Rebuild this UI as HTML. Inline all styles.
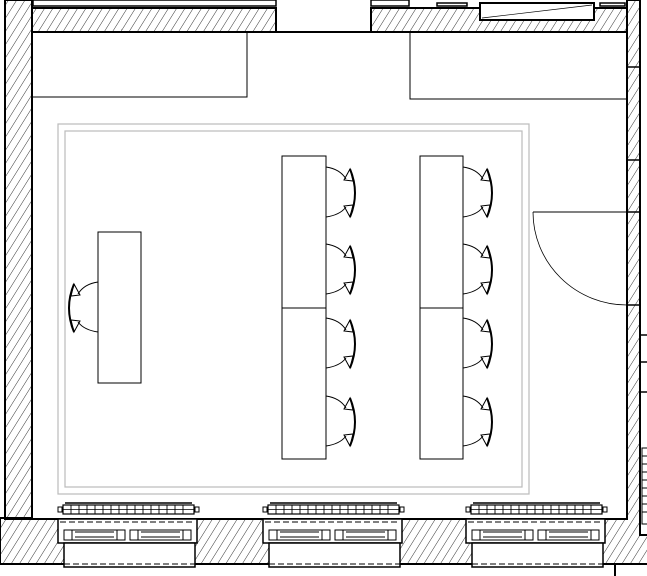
<!DOCTYPE html>
<html><head><meta charset="utf-8"><style>html,body{margin:0;padding:0;background:#fff}svg{display:block}</style></head>
<body>
<svg width="647" height="576" viewBox="0 0 647 576" xmlns="http://www.w3.org/2000/svg">
<defs>
<pattern id="h" patternUnits="userSpaceOnUse" width="7" height="7" patternTransform="rotate(32)">
<line x1="0" y1="0" x2="0" y2="7" stroke="#000" stroke-width="0.8"/>
</pattern>
<g id="chair" fill="none" stroke="#000" stroke-width="1">
<path d="M0,-26 Q14,-24 20,-14"/>
<path d="M0,24 Q14,22 20,14"/>
<path d="M24,-24 Q34,0 24,24" stroke-width="2"/>
<path d="M24,-24 L18,-13 L27,-12 Z"/>
<path d="M24,24 L18,13 L27,12 Z"/>
</g>
<g id="rad" fill="none" stroke="#000">
<rect x="0" y="4" width="131" height="9" fill="#fff" stroke-width="1.2"/>
<path d="M8,4V13M16,4V13M24,4V13M32,4V13M40,4V13M48,4V13M56,4V13M64,4V13M72,4V13M80,4V13M88,4V13M96,4V13M104,4V13M112,4V13M120,4V13" stroke-width="0.9"/>
<line x1="0" y1="8.5" x2="131" y2="8.5" stroke-width="0.8"/>
<line x1="2" y1="2" x2="129" y2="2" stroke-width="1.5"/>
<rect x="-5" y="6" width="4" height="5"/><rect x="132" y="6" width="4" height="5"/>
</g>
<g id="niche" fill="none" stroke="#000">
<rect x="0" y="0" width="139" height="24" fill="#fff" stroke-width="1.5"/>
<rect x="6" y="24" width="131" height="24" fill="#fff" stroke-width="1.5"/>
<line x1="2" y1="3" x2="137" y2="3" stroke-dasharray="6,3"/>
<line x1="6" y1="45" x2="137" y2="45" stroke-dasharray="6,3"/>
<rect x="6" y="11" width="61" height="10"/><rect x="72" y="11" width="61" height="10"/>
<rect x="6" y="11" width="8" height="10"/><rect x="59" y="11" width="8" height="10"/>
<rect x="72" y="11" width="8" height="10"/><rect x="125" y="11" width="8" height="10"/>
<line x1="17" y1="13" x2="56" y2="13"/><line x1="17" y1="18" x2="56" y2="18"/>
<line x1="83" y1="13" x2="122" y2="13"/><line x1="83" y1="18" x2="122" y2="18"/>
</g>
</defs>
<!-- walls -->
<path d="M5,0 H32 V519 H5 Z" fill="url(#h)" stroke="#000" stroke-width="2"/>
<path d="M32,8 H276 V32 H32 Z" fill="url(#h)" stroke="#000" stroke-width="2"/>
<path d="M371,8 H627 V32 H371 Z" fill="url(#h)" stroke="#000" stroke-width="2"/>
<path d="M0,518 H627 V0 H640 V535 H648 V564 H0 Z" fill="url(#h)" stroke="#000" stroke-width="2"/>
<line x1="615" y1="564" x2="615" y2="576" stroke="#000" stroke-width="2"/>
<rect x="33" y="0" width="243" height="6" fill="#fff" stroke="#000" stroke-width="1.5"/>
<rect x="480" y="3" width="114" height="17" fill="#fff" stroke="#000" stroke-width="2"/>
<line x1="482" y1="18" x2="592" y2="5" stroke="#000" stroke-width="0.7"/>
<rect x="437" y="3" width="30" height="3" fill="#fff" stroke="#000" stroke-width="1.5"/>
<rect x="600" y="3" width="25" height="3" fill="#fff" stroke="#000" stroke-width="1.5"/>
<rect x="371" y="0" width="38" height="6" fill="#fff" stroke="#000" stroke-width="1.5"/>
<!-- room interior -->
<rect x="32" y="32" width="595" height="487" fill="#fff" stroke="#000" stroke-width="2"/>
<!-- right wall ticks -->
<g stroke="#000" stroke-width="1.5">
<line x1="627" y1="67" x2="640" y2="67"/><line x1="627" y1="160" x2="640" y2="160"/>
<line x1="627" y1="212" x2="640" y2="212"/><line x1="627" y1="305" x2="640" y2="305"/>
<line x1="640" y1="335" x2="647" y2="335"/><line x1="640" y1="362" x2="647" y2="362"/><line x1="640" y1="392" x2="647" y2="392"/>
</g>
<!-- vertical radiator outside -->
<g fill="none" stroke="#000" stroke-width="1">
<rect x="642" y="448" width="6" height="76" fill="#fff"/>
<path d="M642,456H648M642,464H648M642,472H648M642,480H648M642,488H648M642,496H648M642,504H648M642,512H648"/>
</g>
<!-- cabinets -->
<rect x="32" y="32" width="215" height="65" fill="none" stroke="#000" stroke-width="1"/>
<rect x="410" y="32" width="217" height="67" fill="none" stroke="#000" stroke-width="1"/>
<!-- door -->
<line x1="533" y1="212" x2="627" y2="212" stroke="#000" stroke-width="1"/>
<path d="M533,212 A94,93 0 0 0 627,305" fill="none" stroke="#000" stroke-width="0.8"/>
<!-- carpet -->
<rect x="58" y="124" width="471" height="370" fill="none" stroke="#bbb" stroke-width="1.2"/>
<rect x="65" y="131" width="457" height="356" fill="none" stroke="#bbb" stroke-width="1.2"/>
<!-- desks -->
<g fill="#fff" stroke="#000" stroke-width="1">
<rect x="98" y="232" width="43" height="151"/>
<rect x="282" y="156" width="44" height="152"/><rect x="282" y="308" width="44" height="151"/>
<rect x="420" y="156" width="43" height="152"/><rect x="420" y="308" width="43" height="151"/>
</g>
<!-- chairs -->
<use href="#chair" transform="translate(326,193)"/>
<use href="#chair" transform="translate(326,270)"/>
<use href="#chair" transform="translate(326,344)"/>
<use href="#chair" transform="translate(326,422)"/>
<use href="#chair" transform="translate(463,193)"/>
<use href="#chair" transform="translate(463,270)"/>
<use href="#chair" transform="translate(463,344)"/>
<use href="#chair" transform="translate(463,422)"/>
<use href="#chair" transform="translate(98,308) scale(-1,1)"/>
<!-- radiators and niches -->
<use href="#niche" transform="translate(58,519)"/>
<use href="#niche" transform="translate(263,519)"/>
<use href="#niche" transform="translate(466,519)"/>
<use href="#rad" transform="translate(63,501)"/>
<use href="#rad" transform="translate(268,501)"/>
<use href="#rad" transform="translate(471,501)"/>
</svg>
</body></html>
